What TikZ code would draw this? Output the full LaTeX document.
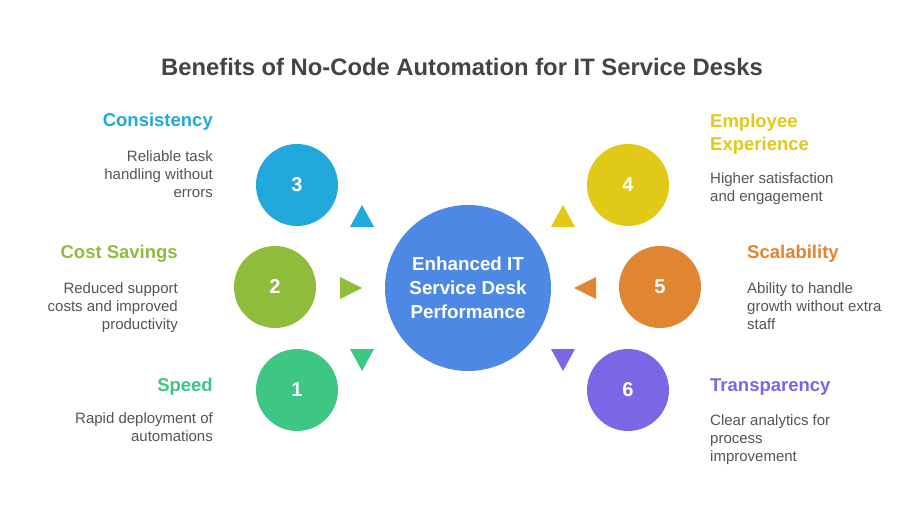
\documentclass[tikz,border=0pt]{standalone}
\usepackage{fontspec}
\setmainfont{Liberation Sans}
\usetikzlibrary{calc}
\definecolor{cCyan}{HTML}{21A9DB}
\definecolor{cLime}{HTML}{8FBC3A}
\definecolor{cGreen}{HTML}{3EC683}
\definecolor{cYellow}{HTML}{E0CA17}
\definecolor{cOrange}{HTML}{E08531}
\definecolor{cPurple}{HTML}{7D66E6}
\definecolor{cBlue}{HTML}{4D88E5}
\definecolor{titlegray}{HTML}{444444}
\definecolor{descgray}{HTML}{555555}
\tikzset{
  numcirc/.style={circle, fill=#1, draw=none, minimum size=82pt, inner sep=0,
    text=white, font=\fontsize{20}{24}\selectfont\bfseries},
  head/.style={inner sep=0, text=#1, font=\fontsize{18.5}{24}\selectfont\bfseries},
  descl/.style={inner sep=0, text=descgray, align=right, font=\fontsize{15}{18}\selectfont},
  descr/.style={inner sep=0, text=descgray, align=left, font=\fontsize{15}{18}\selectfont},
}
\begin{document}
\begin{tikzpicture}[x=1pt,y=-1pt]
\useasboundingbox (0,0) rectangle (924,516);
\fill[white] (0,0) rectangle (924,516);

\node[inner sep=0, anchor=base, text=titlegray, font=\fontsize{23.8}{28}\selectfont\bfseries] (title) at (462,76) {Benefits of No-Code Automation for IT Service Desks};

% center
\node[circle, fill=cBlue, minimum size=166pt, inner sep=0, text=white, align=center,
  font=\fontsize{18.8}{24}\selectfont\bfseries] (center) at (468,288) {Enhanced IT\\Service Desk\\Performance};

% number circles
\node[numcirc=cCyan] (n3) at (297,185) {3};
\node[numcirc=cLime] (n2) at (275,287) {2};
\node[numcirc=cGreen] (n1) at (297,390) {1};
\node[numcirc=cYellow] (n4) at (628,185) {4};
\node[numcirc=cOrange] (n5) at (660,287) {5};
\node[numcirc=cPurple] (n6) at (628,390) {6};

% triangles
\coordinate (t3) at (362,216);
\coordinate (t2) at (351,288);
\coordinate (t1) at (362,360);
\coordinate (t4) at (563,216);
\coordinate (t5) at (585,288);
\coordinate (t6) at (563,360);
\fill[cCyan] ($(t3)+(-12,11)$) -- ($(t3)+(12,11)$) -- ($(t3)+(0,-11)$) -- cycle;
\fill[cYellow] ($(t4)+(-12,11)$) -- ($(t4)+(12,11)$) -- ($(t4)+(0,-11)$) -- cycle;
\fill[cGreen] ($(t1)+(-12,-11)$) -- ($(t1)+(12,-11)$) -- ($(t1)+(0,11)$) -- cycle;
\fill[cPurple] ($(t6)+(-12,-11)$) -- ($(t6)+(12,-11)$) -- ($(t6)+(0,11)$) -- cycle;
\fill[cLime] ($(t2)+(-11,-11)$) -- ($(t2)+(11,0)$) -- ($(t2)+(-11,11)$) -- cycle;
\fill[cOrange] ($(t5)+(11,-11)$) -- ($(t5)+(-11,0)$) -- ($(t5)+(11,11)$) -- cycle;

% left texts (base anchor = baseline of last line)
\node[head=cCyan, anchor=base east] (h3) at (213,127) {Consistency};
\node[descl, anchor=base east] (d3) at (213,197) {Reliable task\\handling without\\errors};
\node[head=cLime, anchor=base east] (h2) at (178,258) {Cost Savings};
\node[descl, anchor=base east] (d2) at (178,329) {Reduced support\\costs and improved\\productivity};
\node[head=cGreen, anchor=base east] (h1) at (213,391) {Speed};
\node[descl, anchor=base east] (d1) at (213,441) {Rapid deployment of\\automations};

% right texts
\node[head=cYellow, anchor=base west, align=left] (h4) at (710,151) {Employee\\Experience};
\node[descr, anchor=base west] (d4) at (710,201) {Higher satisfaction\\and engagement};
\node[head=cOrange, anchor=base west] (h5) at (747,258) {Scalability};
\node[descr, anchor=base west] (d5) at (747,329) {Ability to handle\\growth without extra\\staff};
\node[head=cPurple, anchor=base west] (h6) at (710,391) {Transparency};
\node[descr, anchor=base west] (d6) at (710,461) {Clear analytics for\\process\\improvement};
\end{tikzpicture}
\end{document}
